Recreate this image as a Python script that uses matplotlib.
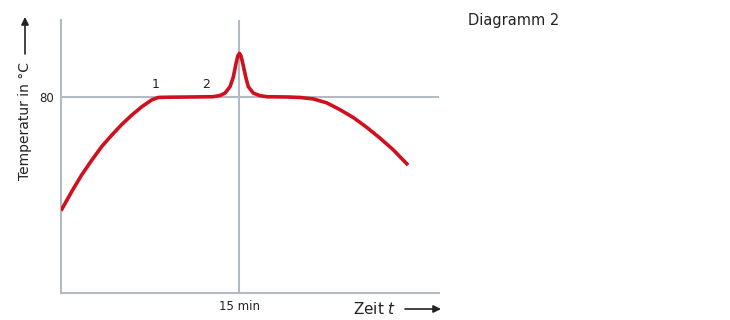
import matplotlib.pyplot as plt

# values (time in min, temperature in °C)
zeit = [0, 0.90, 1.74, 2.59, 3.43, 4.27, 5.12, 5.96, 6.80, 7.64, 8.20, 9.04,
        11.0, 12.8, 13.4, 13.82, 14.24, 14.52, 14.75, 14.9, 15.03, 15.16, 15.31,
        15.56, 15.78, 16.2, 16.71, 17.33, 19.0, 20.14, 21.26, 22.39, 23.51,
        24.63, 25.76, 26.88, 28.0, 29.24]
temp = [56.8, 60.7, 64.1, 67.1, 69.9, 72.2, 74.4, 76.3, 78.0, 79.4, 79.9, 79.95,
        80.0, 80.05, 80.3, 80.8, 82.1, 84.1, 86.9, 88.4, 88.9, 88.4, 86.9,
        84.1, 82.1, 80.8, 80.3, 80.05, 80.0, 79.9, 79.6, 78.8, 77.4,
        75.8, 73.8, 71.6, 69.2, 66.1]
marken = ["1", "2"]
marken_x = [8.0, 12.2]

grau = "#b3bac4"
rot = "#d0101e"
dunkel = "#222222"

fig = plt.figure(figsize=(7.3, 3.2), dpi=100)
ax = fig.add_axes([0.0836, 0.0844, 0.5178, 0.853])
ax.set_xlim(0, 31.85)
ax.set_ylim(40, 95.7)

ax.axhline(80, color=grau, lw=1.5, zorder=1)
ax.axvline(15, color=grau, lw=1.5, zorder=1)
ax.plot(zeit, temp, color=rot, lw=2.6, solid_capstyle="butt",
        solid_joinstyle="round", zorder=3)

for s in ["top", "right"]:
    ax.spines[s].set_visible(False)
for s in ["left", "bottom"]:
    ax.spines[s].set_color(grau)
    ax.spines[s].set_linewidth(1.5)

ax.set_xticks([15])
ax.set_xticklabels(["15 min"], fontsize=8.5, color=dunkel)
ax.set_yticks([80])
ax.set_yticklabels(["80"], fontsize=8.5, color=dunkel)
ax.tick_params(length=0, pad=5)

for m, mx in zip(marken, marken_x):
    ax.text(mx, 81.2, m, ha="center", va="bottom", fontsize=9, color=dunkel)

# axis captions with arrows
fig.text(25 / 730, 1 - 121 / 320, "Temperatur in °C", rotation=90, ha="center",
         va="center", fontsize=10, color=dunkel)
ax.annotate("", xy=(25 / 730, 1 - 17 / 320), xytext=(25 / 730, 1 - 54 / 320),
            xycoords="figure fraction",
            arrowprops=dict(arrowstyle="-|>", color=dunkel, lw=1.2,
                            mutation_scale=11, shrinkA=0, shrinkB=0))

fig.text(375 / 730, 1 - 309 / 320, "Zeit $t$", ha="center", va="center",
         fontsize=11, color=dunkel)
ax.annotate("", xy=(441 / 730, 1 - 309 / 320), xytext=(405 / 730, 1 - 309 / 320),
            xycoords="figure fraction",
            arrowprops=dict(arrowstyle="-|>", color=dunkel, lw=1.2,
                            mutation_scale=11, shrinkA=0, shrinkB=0))

fig.text(468 / 730, 1 - 20 / 320, "Diagramm 2", ha="left", va="center",
         fontsize=10.5, color=dunkel)

fig.savefig("out.png", dpi=100)
